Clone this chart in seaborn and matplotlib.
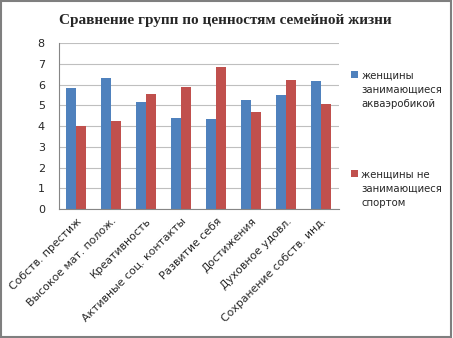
import matplotlib
matplotlib.use("Agg")
import matplotlib.pyplot as plt
import seaborn as sns
import pandas as pd
from matplotlib.patches import Rectangle

categories = ["Собств. престиж", "Высокое мат. полож.", "Креативность",
              "Активные соц. контакты", "Развитие себя", "Достижения",
              "Духовное удовл.", "Сохранение собств. инд."]
series_names = ["женщины\nзанимающиеся\nакваэробикой",
                "женщины не\nзанимающиеся\nспортом"]
aqua = [5.83, 6.31, 5.17, 4.40, 4.35, 5.27, 5.51, 6.18]
nosport = [4.01, 4.25, 5.56, 5.89, 6.84, 4.69, 6.23, 5.07]
yticks = [0, 1, 2, 3, 4, 5, 6, 7, 8]
title = "Сравнение групп по ценностям семейной жизни"

df = pd.DataFrame({
    "cat": categories * 2,
    "val": aqua + nosport,
    "grp": [series_names[0]] * len(categories) + [series_names[1]] * len(categories),
})

sns.set_theme(style="white")
plt.rcParams['font.family'] = ['DejaVu Sans']

fig = plt.figure(figsize=(4.53, 3.38), dpi=100)
ax = fig.add_axes([0.1296, 0.3817, 0.6184, 0.4903])

sns.barplot(data=df, x="cat", y="val", hue="grp", order=categories,
            hue_order=series_names, palette=["#4F81BD", "#C0504D"],
            width=0.58, gap=0, ax=ax, saturation=1, errorbar=None,
            linewidth=0, edgecolor="none")

ax.set_ylim(0, 8)
ax.set_yticks(yticks)
ax.set_yticklabels([str(v) for v in yticks], fontsize=8)
ax.yaxis.grid(True, color="#BFBFBF", linewidth=0.8)
ax.set_axisbelow(True)
ax.set_xlabel("")
ax.set_ylabel("")
ax.tick_params(axis="y", length=0, pad=10)
ax.tick_params(axis="x", length=0, pad=5)
plt.setp(ax.get_xticklabels(), rotation=45, ha="right", rotation_mode="anchor",
         fontsize=7.8)
for s in ["top", "right"]:
    ax.spines[s].set_visible(False)
ax.spines["left"].set_color("#868686")
ax.spines["bottom"].set_color("#868686")
ax.spines["left"].set_linewidth(0.8)
ax.spines["bottom"].set_linewidth(0.8)

leg = ax.legend(loc="upper left", bbox_to_anchor=(1.03, 0.86), frameon=False,
                fontsize=7.3, handlelength=0.65, handleheight=0.65,
                handletextpad=0.35, labelspacing=5.9, borderaxespad=0)
for t in leg.get_texts():
    t.set_linespacing(1.55)
for h in leg.legend_handles:
    h.set_y(h.get_y() + 11.3)

fig.text(0.497, 0.94, title, ha="center", va="center", fontsize=11,
         fontweight="bold", family=["Liberation Serif"])

fig.patches.append(Rectangle((0.002, 0.003), 0.994, 0.994, transform=fig.transFigure,
                             fill=False, edgecolor="#7F7F7F", linewidth=1.5))

fig.savefig("out.png", dpi=100)
